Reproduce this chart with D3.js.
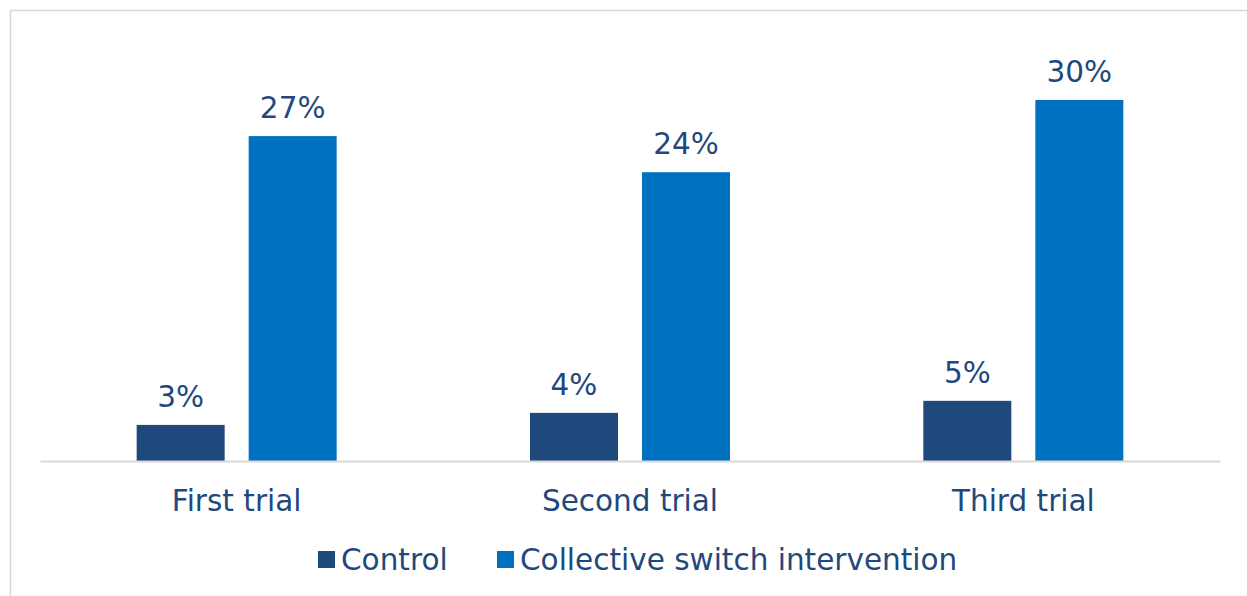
<!DOCTYPE html>
<html><head><meta charset="utf-8">
<script src="https://cdn.jsdelivr.net/npm/d3@7"></script>
<style>body{margin:0;background:#fff}svg{display:block}text{font-family:"DejaVu Sans",Verdana,sans-serif}</style>
</head><body><div id="chart"></div>
<script>
const categories = ["First trial", "Second trial", "Third trial"];
const seriesNames = ["Control", "Collective switch intervention"];
const control = [3, 4, 5];
const intervention = [27, 24, 30];
const colors = ["#1f497d", "#0070c0"];

const W = 1247, H = 596, FS = 29.5;
const svg = d3.select("#chart").append("svg").attr("width", W).attr("height", H);
svg.append("rect").attr("x", 10.5).attr("y", 10.5).attr("width", W + 5).attr("height", H + 5)
  .attr("fill", "#fff").attr("stroke", "#d9d9d9").attr("stroke-width", 1.5);

const plot = {left: 40, right: 1220, base: 461};
const x0 = d3.scaleBand().domain(categories).range([plot.left, plot.right]).padding(0);
const x1 = d3.scaleBand().domain(seriesNames).range([0, 200]).paddingInner(0.2143);
const y = d3.scaleLinear().domain([0, 30]).range([plot.base, 100]);

const data = categories.map((c, i) => ({cat: c, vals: [control[i], intervention[i]]}));
const g = svg.append("g");
const groups = g.selectAll("g.cat").data(data).join("g")
  .attr("transform", d => `translate(${x0(d.cat) + x0.bandwidth() / 2 - 100},0)`);
groups.selectAll("rect").data(d => d.vals.map((v, j) => ({v, s: seriesNames[j], j}))).join("rect")
  .attr("x", d => x1(d.s)).attr("width", x1.bandwidth())
  .attr("y", d => y(d.v)).attr("height", d => plot.base - y(d.v))
  .attr("fill", d => colors[d.j]);
groups.selectAll("text").data(d => d.vals.map((v, j) => ({v, s: seriesNames[j], j}))).join("text")
  .attr("x", d => x1(d.s) + x1.bandwidth() / 2).attr("y", d => y(d.v) - 18)
  .attr("text-anchor", "middle").attr("font-size", FS).attr("fill", "#1f497d")
  .text(d => d.v + "%");

// axis
const axis = d3.axisBottom(x0).tickSize(0);
const ax = svg.append("g").attr("transform", `translate(0,${plot.base})`).call(axis);
ax.select(".domain").attr("stroke", "#d9d9d9").attr("stroke-width", 2);
ax.selectAll("text").attr("font-size", FS).attr("fill", "#1f497d")
  .attr("font-family", '"DejaVu Sans",Verdana,sans-serif').attr("dy", "0").attr("y", 50);

// legend
const legX = [318, 497];
const leg = svg.append("g");
seriesNames.forEach((s, i) => {
  leg.append("rect").attr("x", legX[i]).attr("y", 551).attr("width", 17).attr("height", 17).attr("fill", colors[i]);
  leg.append("text").attr("x", legX[i] + 23).attr("y", 570).attr("font-size", FS).attr("fill", "#1f497d").text(s);
});
</script></body></html>
